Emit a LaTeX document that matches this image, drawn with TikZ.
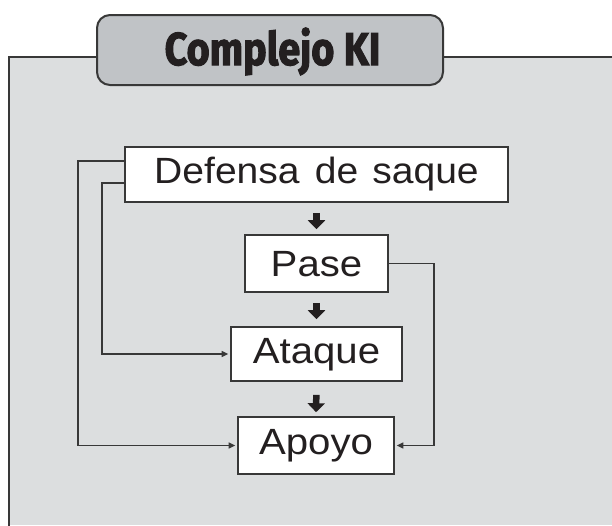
\documentclass[tikz,border=0pt]{standalone}
\usepackage{fontspec}
\setmainfont{Liberation Sans}
\newfontfamily\boxfont{Liberation Sans}
\newfontfamily\titlefont{Fira Sans}[BoldFeatures={FakeBold=2.5}]
\usetikzlibrary{arrows.meta}
\definecolor{panelgray}{HTML}{DCDEDF}
\definecolor{titlegray}{HTML}{C0C3C6}
\definecolor{linegray}{HTML}{383838}
\definecolor{inkblack}{HTML}{231F20}
\begin{document}
\begin{tikzpicture}[x=1pt,y=-1pt,
  stepbox/.style={draw=linegray,line width=1.6pt,fill=white,inner sep=0pt,
    font=\boxfont\fontsize{36.5}{36.5}\selectfont,text height=26pt,text depth=8pt,text=inkblack},
  conn/.style={draw=linegray,line width=1.5pt,-{Triangle[width=6pt,length=6.5pt]},shorten >=2pt},
  bigarrow/.style={draw=inkblack,line width=6.5pt,-{Triangle[width=17pt,length=9pt]}}]
\fill[white] (0,0) rectangle (612,525);
\useasboundingbox (0,0) rectangle (612,525);
\fill[panelgray] (9,57) rectangle (612,525);
\draw[linegray,line width=2.6pt] (612,57) -- (9,57) -- (9,526);
\node[draw=linegray,line width=2pt,fill=titlegray,rounded corners=13pt,
  minimum width=346pt,minimum height=70pt,inner sep=0pt] (title) at (270,50) {};
\node[font=\titlefont\bfseries\fontsize{46}{46}\selectfont,text height=32pt,text depth=0pt,
  inner sep=0pt,text=inkblack] (titletext) at (272.5,49) {\scalebox{0.86}[1]{Complejo KI}};
\node[stepbox,minimum width=383pt,minimum height=55pt] (def) at (316.5,174.5) {\scalebox{1.07}[1]{Defensa\hspace{4pt} de\hspace{3pt} saque}};
\node[stepbox,minimum width=143pt,minimum height=57pt,text depth=1pt] (pase) at (316.5,263.5) {\scalebox{1.1}[1]{Pase}};
\node[stepbox,minimum width=171pt,minimum height=54pt] (ata) at (316.5,354) {\scalebox{1.1}[1]{Ataque}};
\node[stepbox,minimum width=156pt,minimum height=57pt] (apo) at (316,445.5) {\scalebox{1.1}[1]{Apoyo}};
\draw[bigarrow,shorten <=10pt,shorten >=5pt] (def.south) -- (pase.north);
\draw[bigarrow,shorten <=10pt,shorten >=7pt] (pase.south) -- (ata.north);
\draw[bigarrow,shorten <=13pt,shorten >=4pt] (ata.south) -- (apo.north);
\draw[conn] ([yshift=13.5pt]def.west) -- ++(-46,0) |- (apo.west);
\draw[conn] ([yshift=-8.5pt]def.west) -- ++(-22,0) |- (ata.west);
\draw[conn] (pase.east) -- ++(45,0) |- (apo.east);
\end{tikzpicture}
\end{document}
